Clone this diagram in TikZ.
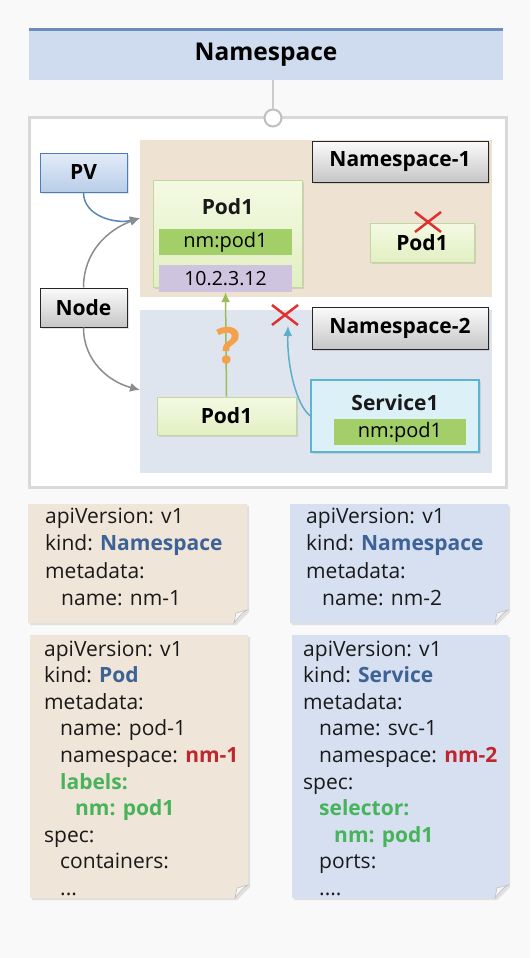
\documentclass[tikz,border=0pt]{standalone}
\usepackage{fontspec}
\setmainfont{Open Sans}
\usetikzlibrary{arrows.meta,shadows}
\definecolor{bgc}{HTML}{F9F9F9}
\definecolor{titlefill}{HTML}{CFDCEF}
\definecolor{titleline}{HTML}{6D8DBD}
\definecolor{frame}{HTML}{D9D9D9}
\definecolor{nsone}{HTML}{EEE2D3}
\definecolor{nstwo}{HTML}{DFE5EF}
\definecolor{podtop}{HTML}{F4FAE3}
\definecolor{podbot}{HTML}{E2EFC2}
\definecolor{podline}{HTML}{C3D69B}
\definecolor{nmfill}{HTML}{A2CF68}
\definecolor{ipfill}{HTML}{CEC4DF}
\definecolor{svcfill}{HTML}{DCF0F7}
\definecolor{svcline}{HTML}{5BB5D0}
\definecolor{pvtop}{HTML}{E4ECF8}
\definecolor{pvbot}{HTML}{B8CDE8}
\definecolor{pvline}{HTML}{4A7EBB}
\definecolor{graytop}{HTML}{FBFBFB}
\definecolor{graybot}{HTML}{C6C6C6}
\definecolor{arrpv}{HTML}{5A87B8}
\definecolor{arrgray}{HTML}{8C8C8C}
\definecolor{arrgreen}{HTML}{9BBB59}
\definecolor{arrcyan}{HTML}{5AB0C8}
\definecolor{xred}{HTML}{E0302F}
\definecolor{qorange}{HTML}{F5A04A}
\definecolor{notetan}{HTML}{EFE5D8}
\definecolor{noteblue}{HTML}{D6E0F1}
\definecolor{kblue}{HTML}{3D6296}
\definecolor{kred}{HTML}{C0272D}
\definecolor{kgreen}{HTML}{47B35A}
\tikzset{
  shade2/.style={drop shadow={opacity=0.22, shadow xshift=1.5pt, shadow yshift=-1.5pt}},
  lbl/.style={font=\fontsize{21}{25}\selectfont\bfseries, inner sep=0pt, text=black!90},
  graybox/.style={shade2, draw=black!85, line width=1pt, top color=graytop, bottom color=graybot, inner sep=0pt, font=\fontsize{21}{25}\selectfont\bfseries},
  podbox/.style={shade2, draw=podline, line width=1pt, top color=podtop, bottom color=podbot, inner sep=0pt, font=\fontsize{21}{25}\selectfont\bfseries},
  nmbar/.style={fill=nmfill, inner sep=0pt, font=\fontsize{20}{24}\selectfont},
  ipbar/.style={fill=ipfill, inner sep=0pt, font=\fontsize{19.5}{24}\selectfont},
  arr/.style={line width=1.5pt, -{Latex[length=10pt,width=9pt]}},
  xmark/.style={draw=xred, line width=2.5pt},
  yl/.style={anchor=base west, inner sep=0pt, font=\fontsize{21}{25}\selectfont, text=black!90},
}
\newcommand{\kb}[1]{\textcolor{kblue}{\bfseries #1}}
\newcommand{\kr}[1]{\textcolor{kred}{\bfseries #1}}
\newcommand{\kg}[1]{\textcolor{kgreen}{\bfseries #1}}
\begin{document}
\begin{tikzpicture}[x=1pt,y=-1pt]
\useasboundingbox (0,0) rectangle (530,958);
\fill[bgc] (0,0) rectangle (530,958);
% title
\node[fill=titlefill, minimum width=474pt, minimum height=50pt, inner sep=0pt, font=\fontsize{24.5}{29}\selectfont\bfseries] (title) at (266,55) {Namespace};
\draw[titleline, line width=3pt] (title.north west) -- (title.north east);
% frame
\draw[frame, line width=3pt, fill=white] (29,117) rectangle (506,487);
\node[circle, draw=black!25, line width=2pt, fill=white, minimum size=17pt, inner sep=0pt] (knob) at (273,118) {};
\draw[black!20, line width=1.5pt] (title.south -| knob) -- (knob.north);
% namespace regions
\fill[nsone] (140,140) rectangle (492,297);
\fill[nstwo] (140,310) rectangle (492,473);
\node[graybox, minimum width=176pt, minimum height=41pt] (ns1) at (400,161.5) {Namespace-1};
\node[graybox, minimum width=176pt, minimum height=42pt] (ns2) at (400,328) {Namespace-2};
% PV and Node
\node[shade2, draw=pvline, line width=1pt, top color=pvtop, bottom color=pvbot, inner sep=0pt, minimum width=87pt, minimum height=39pt, font=\fontsize{21}{25}\selectfont\bfseries] (pv) at (83.5,172.5) {PV};
\node[graybox, minimum width=87pt, minimum height=39pt] (nodebox) at (83.5,307.5) {Node};
% Pod A
\node[podbox, minimum width=149pt, minimum height=107pt] (podA) at (227.5,233.5) {};
\node[lbl] (podAt) at (227.5,207) {Pod1};
\node[nmbar, minimum width=133pt, minimum height=26pt] (nmA) at (225.5,242) {nm:pod1};
\node[ipbar, minimum width=133pt, minimum height=27pt] (ipA) at (225.5,278.5) {10.2.3.12};
% Pod B
\node[podbox, minimum width=104pt, minimum height=39pt] (podB) at (422,242.5) {Pod1};
\draw[xmark] (415,212) -- (441,232) (441,212) -- (415,232);
% Pod C
\node[podbox, minimum width=139pt, minimum height=38pt] (podC) at (226.5,416) {Pod1};
% Service
\node[shade2, draw=svcline, line width=1.2pt, fill=svcfill, minimum width=168pt, minimum height=72pt, inner sep=0pt] (svc) at (395,416) {};
\node[lbl] (svct) at (395,403) {Service1};
\node[nmbar, minimum width=132pt, minimum height=26pt] (nmS) at (400,432) {nm:pod1};
% connectors
\coordinate (pin) at (140,218);
\coordinate (pin2) at (140,390);
\coordinate (xb) at (288,326);
\draw[arr, arrpv] (pv.south) to[out=-90, in=195] (pin);
\draw[arr, arrgray] (nodebox.north) to[out=90, in=200] (pin);
\draw[arr, arrgray] (nodebox.south) to[out=-90, in=165] (pin2);
\draw[arr, arrgreen] (podC.north) -- (ipA.south);
\draw[arr, arrcyan] (svc.west) .. controls (296,405) and (287,365) .. (xb);
\draw[xmark] (272,305) -- (298,325) (298,305) -- (272,325);
\node[text=qorange, inner sep=0pt, font=\fontsize{50}{54}\selectfont\bfseries] (qm) at (228,346) {?};
% notes
\newcommand{\note}[5]{%
  \fill[black!12] (#1+2,#2+2) -- (#3+2,#2+2) -- (#3+2,#4-11) -- (#3-11,#4+2) -- (#1+2,#4+2) -- cycle;
  \fill[#5] (#1,#2) -- (#3,#2) -- (#3,#4-13) -- (#3-13,#4) -- (#1,#4) -- cycle;
  \draw[black!25, line width=0.6pt, fill=#5!80!black!10!white] (#3,#4-13) .. controls (#3-6,#4-9) .. (#3-13,#4) -- (#3-11,#4-10) -- cycle;
}
\note{28}{504}{247}{623}{notetan}
\note{290}{504}{508}{623}{noteblue}
\note{30}{635}{248}{898}{notetan}
\note{292}{635}{508}{898}{noteblue}
% note 1
\node[yl] (a1) at (45,523) {apiVersion: v1};
\node[yl] (a2) at (45,550.5) {kind: \kb{Namespace}};
\node[yl] (a3) at (45,578) {metadata:};
\node[yl] (a4) at (61,605.5) {name: nm-1};
% note 2
\node[yl] (b1) at (306,523) {apiVersion: v1};
\node[yl] (b2) at (306,550.5) {kind: \kb{Namespace}};
\node[yl] (b3) at (306,578) {metadata:};
\node[yl] (b4) at (322,605.5) {name: nm-2};
% note 3
\node[yl] (c1) at (44,656) {apiVersion: v1};
\node[yl] (c2) at (44,682.6) {kind: \kb{Pod}};
\node[yl] (c3) at (44,709.2) {metadata:};
\node[yl] (c4) at (60,735.8) {name: pod-1};
\node[yl] (c5) at (60,762.4) {namespace: \kr{nm-1}};
\node[yl] (c6) at (60,789) {\kg{labels:}};
\node[yl] (c7) at (75,815.6) {\kg{nm: pod1}};
\node[yl] (c8) at (44,842.2) {spec:};
\node[yl] (c9) at (60,868.8) {containers:};
\node[yl] (c10) at (60,895.4) {...};
% note 4
\node[yl] (d1) at (303,656) {apiVersion: v1};
\node[yl] (d2) at (303,682.6) {kind: \kb{Service}};
\node[yl] (d3) at (303,709.2) {metadata:};
\node[yl] (d4) at (319,735.8) {name: svc-1};
\node[yl] (d5) at (319,762.4) {namespace: \kr{nm-2}};
\node[yl] (d6) at (303,789) {spec:};
\node[yl] (d7) at (319,815.6) {\kg{selector:}};
\node[yl] (d8) at (334,842.2) {\kg{nm: pod1}};
\node[yl] (d9) at (319,868.8) {ports:};
\node[yl] (d10) at (319,895.4) {....};
\end{tikzpicture}
\end{document}
